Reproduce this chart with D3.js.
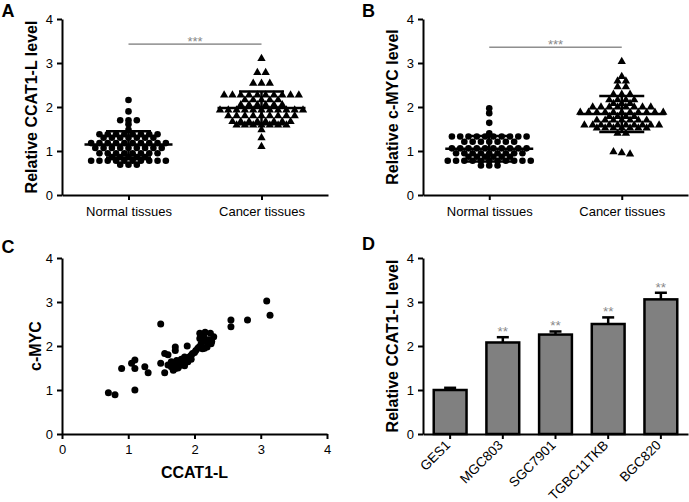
<!DOCTYPE html>
<html><head><meta charset="utf-8">
<script src="https://cdnjs.cloudflare.com/ajax/libs/d3/7.8.5/d3.min.js"></script>
<style>
body{margin:0;background:#fff;}
svg{display:block;}
</style></head><body>
<svg id="c" width="689" height="502"></svg>
<script>
// ---------- DATA ----------
const groups = ["Normal tissues", "Cancer tissues"];
const yTicks = [0, 1, 2, 3, 4];

// Panel A: relative CCAT1-L level
const ccat1Normal = [2.16, 1.90, 1.70, 1.70, 1.70, 1.61, 1.48,
  1.38, 1.38, 1.38, 1.38, 1.38, 1.38, 1.38, 1.38,
  1.30, 1.30, 1.30, 1.30, 1.30, 1.30, 1.30,
  1.18, 1.18, 1.18, 1.18, 1.18, 1.18, 1.18, 1.18, 1.18, 1.18,
  1.07, 1.07, 1.07, 1.07, 1.07, 1.07, 1.07, 1.07, 1.07,
  0.95, 0.95, 0.95, 0.95, 0.95, 0.95, 0.95, 0.95,
  0.86, 0.86, 0.86, 0.86, 0.86,
  0.78, 0.78, 0.78, 0.78, 0.78, 0.78, 0.78, 0.78, 0.78, 0.78,
  0.69, 0.69, 0.69];
const ccat1Cancer = [3.10, 2.78, 2.78, 2.54, 2.54, 2.54,
  2.27, 2.27, 2.27, 2.27, 2.27, 2.27, 2.27, 2.27, 2.27, 2.27,
  2.16, 2.16, 2.16, 2.16, 2.16,
  2.05, 2.05, 2.05, 2.05, 2.05, 2.05,
  1.93, 1.93, 1.93, 1.93, 1.93, 1.93, 1.93, 1.93, 1.93, 1.93, 1.93,
  1.80, 1.80, 1.80, 1.80, 1.80, 1.80, 1.80, 1.80, 1.80,
  1.67, 1.67, 1.67, 1.67, 1.67, 1.67, 1.67, 1.67,
  1.59, 1.59, 1.59, 1.59, 1.59, 1.59, 1.59,
  1.48, 1.30, 1.10];
const ccat1Mean = [1.15, 1.98];
const ccat1SD = [0.30, 0.37];
const ccat1SigLevel = [3.43];
const ccat1SigText = ["***"];

// Panel B: relative c-MYC level
const mycNormal = [1.97, 1.86, 1.64, 1.40,
  1.33, 1.33, 1.33, 1.33, 1.33, 1.33, 1.33, 1.33, 1.33, 1.33,
  1.21, 1.21, 1.21, 1.21, 1.21, 1.21, 1.21,
  1.06, 1.06, 1.06, 1.06, 1.06, 1.06, 1.06, 1.06, 1.06, 1.06,
  0.95, 0.95, 0.95, 0.95, 0.95, 0.95, 0.95, 0.95, 0.95,
  0.87, 0.87, 0.87, 0.87, 0.87, 0.87,
  0.78, 0.78, 0.78, 0.78, 0.78, 0.78, 0.78, 0.78, 0.78, 0.78, 0.78,
  0.67, 0.67, 0.67];
const mycCancer = [3.03, 2.69, 2.59, 2.59, 2.46, 2.46,
  2.29, 2.29, 2.29, 2.16, 2.16, 2.16, 2.16, 2.08, 2.08, 2.08,
  2.00, 2.00, 2.00, 2.00, 2.00, 2.00, 2.00, 2.00,
  1.88, 1.88, 1.88, 1.88, 1.88, 1.88, 1.88, 1.88, 1.88, 1.88, 1.88,
  1.78, 1.78, 1.78, 1.78,
  1.70, 1.70, 1.70, 1.70, 1.70, 1.70, 1.70,
  1.59, 1.59, 1.59, 1.59, 1.59, 1.59, 1.59, 1.59, 1.59, 1.59,
  1.52, 1.52, 1.52, 1.52, 1.52, 1.52, 1.52,
  1.40, 1.40, 0.98, 0.96, 0.93];
const mycMean = [1.05, 1.84];
const mycSD = [0.29, 0.41];
const mycSigLevel = [3.36];
const mycSigText = ["***"];

// Panel C: correlation
const corrTicks = [0, 1, 2, 3, 4];
const corrCCAT1 = [0.70, 0.80, 1.10, 0.90, 1.05, 1.10, 1.10, 1.25, 1.30, 1.49, 1.49, 1.55, 1.55, 1.60, 1.71, 1.71, 1.89,
  1.60, 1.65, 1.71, 1.73, 1.75, 1.80, 1.82, 1.87, 1.90, 1.92, 1.95, 1.97, 2.02, 2.07, 2.10, 2.12,
  1.65, 1.73, 1.76, 1.84, 1.68, 1.75, 1.85, 1.95, 2.00, 2.05, 2.15, 1.80, 1.85,
  2.08, 2.16, 2.24, 2.29, 2.21, 2.14, 2.08, 2.16, 2.19, 2.26, 2.25,
  2.55, 2.55, 2.80, 3.14, 3.09];
const corrMYC = [0.94, 0.89, 1.00, 1.49, 1.61, 1.68, 1.49, 1.53, 1.39, 2.50, 1.61, 1.39, 1.83, 1.80, 1.98, 1.90, 2.00,
  1.57, 1.53, 1.49, 1.57, 1.64, 1.60, 1.67, 1.71, 1.64, 1.75, 1.79, 1.83, 1.90, 1.98, 2.05, 1.94,
  1.64, 1.67, 1.53, 1.60, 1.45, 1.50, 1.55, 1.70, 1.85, 1.95, 1.95, 1.70, 1.75,
  2.29, 2.31, 2.29, 2.21, 2.14, 2.21, 2.17, 2.10, 1.98, 2.10, 2.05,
  2.59, 2.44, 2.59, 2.70, 3.02];

// Panel D: cell lines
const cellLines = ["GES1", "MGC803", "SGC7901", "TGBC11TKB", "BGC820"];
const cellValues = [1.00, 2.08, 2.26, 2.50, 3.06];
const cellErrors = [0.05, 0.12, 0.07, 0.15, 0.15];
const cellSig = ["", "**", "**", "**", "**"];

// ---------- DRAWING ----------
const FONT = '"Liberation Sans", Arial, Helvetica, sans-serif';
const svg = d3.select("#c").attr("font-family", FONT);

function styleAxis(g) {
  g.attr("font-family", FONT);
  g.select(".domain").attr("stroke", "#000").attr("stroke-width", 2);
  g.selectAll(".tick line").attr("stroke", "#000").attr("stroke-width", 2);
  g.selectAll(".tick text").attr("fill", "#000").attr("font-size", 13);
}
function yAxis(x0, y) {
  const g = svg.append("g").attr("transform", `translate(${x0},0)`)
    .call(d3.axisLeft(y).tickValues(yTicks).tickFormat(d3.format("d"))
      .tickSize(5).tickSizeOuter(0).tickPadding(4));
  styleAxis(g);
}
function yTitle(x, yc, text) {
  svg.append("text").attr("transform", `translate(${x},${yc}) rotate(-90)`)
    .attr("text-anchor", "middle").attr("font-weight", "bold").attr("font-size", 16)
    .attr("fill", "#000").text(text);
}
function panelLetter(x, y, t) {
  svg.append("text").attr("x", x).attr("y", y).attr("font-weight", "bold")
    .attr("font-size", 18).attr("fill", "#000").text(t);
}
function rowLayout(values, spacing, tol) {
  const sorted = values.slice().sort((a, b) => b - a);
  const rows = [];
  sorted.forEach(v => {
    const r = rows[rows.length - 1];
    if (r && r.start - v <= tol) r.items.push(v); else rows.push({start: v, items: [v]});
  });
  const out = [];
  rows.forEach(r => {
    const n = r.items.length;
    r.items.forEach((v, i) => out.push({v, dx: (i - (n - 1) / 2) * spacing}));
  });
  return out;
}

function dotPanel(opts) {
  const {x0, x1, top, bottom, normal, cancer, mean, sd, sigLevel, sigText, title, titleX, letter, letterX} = opts;
  const x = d3.scalePoint().domain(groups).range([x0, x1]).padding(0.5);
  const y = d3.scaleLinear().domain([0, 4]).range([bottom, top]);
  yAxis(x0, y);
  const gx = svg.append("g").attr("transform", `translate(0,${bottom})`)
    .call(d3.axisBottom(x).tickSize(5).tickSizeOuter(0).tickPadding(7));
  styleAxis(gx);

  svg.append("g").selectAll("circle").data(rowLayout(normal, 8.3, 0.055)).join("circle")
    .attr("cx", d => x(groups[0]) + d.dx).attr("cy", d => y(d.v)).attr("r", 3.3).attr("fill", "#000");
  const tri = d3.symbol().type(d3.symbolTriangle).size(30);
  svg.append("g").selectAll("path").data(rowLayout(cancer, 8.3, 0.055)).join("path")
    .attr("d", tri).attr("fill", "#000")
    .attr("transform", d => `translate(${x(groups[1]) + d.dx},${y(d.v)})`);

  groups.forEach((gname, i) => {
    const cx = x(gname);
    const g = svg.append("g").attr("stroke", "#000").attr("stroke-width", 2.5);
    g.append("line").attr("x1", cx - 44).attr("x2", cx + 44).attr("y1", y(mean[i])).attr("y2", y(mean[i]));
    g.append("line").attr("x1", cx - 22.5).attr("x2", cx + 22.5).attr("y1", y(mean[i] + sd[i])).attr("y2", y(mean[i] + sd[i]));
    g.append("line").attr("x1", cx - 22.5).attr("x2", cx + 22.5).attr("y1", y(mean[i] - sd[i])).attr("y2", y(mean[i] - sd[i]));
    g.append("line").attr("x1", cx).attr("x2", cx).attr("y1", y(mean[i] - sd[i])).attr("y2", y(mean[i] + sd[i]));
  });

  const sy = y(sigLevel[0]);
  svg.append("line").attr("x1", x(groups[0])).attr("x2", x(groups[1])).attr("y1", sy).attr("y2", sy)
    .attr("stroke", "#555").attr("stroke-width", 1);
  svg.append("text").attr("x", (x(groups[0]) + x(groups[1])) / 2).attr("y", sy + 1.5)
    .attr("text-anchor", "middle").attr("font-size", 13).attr("fill", "#888").text(sigText[0]);

  yTitle(titleX, (top + bottom) / 2, title);
  panelLetter(letterX, 17, letter);
}

dotPanel({x0: 62, x1: 328, top: 19, bottom: 195, normal: ccat1Normal, cancer: ccat1Cancer,
  mean: ccat1Mean, sd: ccat1SD, sigLevel: ccat1SigLevel, sigText: ccat1SigText,
  title: "Relative CCAT1-L level", titleX: 37, letter: "A", letterX: 1.5});
dotPanel({x0: 423, x1: 688, top: 19, bottom: 195, normal: mycNormal, cancer: mycCancer,
  mean: mycMean, sd: mycSD, sigLevel: mycSigLevel, sigText: mycSigText,
  title: "Relative c-MYC level", titleX: 398, letter: "B", letterX: 362});

// Panel C
(function () {
  const x = d3.scaleLinear().domain([0, 4]).range([62, 327]);
  const y = d3.scaleLinear().domain([0, 4]).range([434, 258]);
  yAxis(62, y);
  const gx = svg.append("g").attr("transform", "translate(0,434)")
    .call(d3.axisBottom(x).tickValues(corrTicks).tickFormat(d3.format("d"))
      .tickSize(5).tickSizeOuter(0).tickPadding(6));
  styleAxis(gx);
  svg.append("g").selectAll("circle").data(d3.zip(corrCCAT1, corrMYC)).join("circle")
    .attr("cx", d => x(d[0])).attr("cy", d => y(d[1])).attr("r", 3.5).attr("fill", "#000");
  svg.append("text").attr("x", (62 + 327) / 2).attr("y", 478).attr("text-anchor", "middle")
    .attr("font-weight", "bold").attr("font-size", 16).attr("fill", "#000").text("CCAT1-L");
  yTitle(41, 346, "c-MYC");
  panelLetter(1.5, 253, "C");
})();

// Panel D
(function () {
  const x = d3.scaleBand().domain(cellLines).range([423, 688]).paddingInner(0.33).paddingOuter(0.18);
  const y = d3.scaleLinear().domain([0, 4]).range([434, 258]);
  const bw = x.bandwidth();
  const g = svg.append("g");
  cellLines.forEach((c, i) => {
    const cx = x(c) + bw / 2;
    const top = y(cellValues[i] + cellErrors[i]);
    g.append("line").attr("x1", cx).attr("x2", cx).attr("y1", y(cellValues[i])).attr("y2", top)
      .attr("stroke", "#000").attr("stroke-width", 2.5);
    g.append("line").attr("x1", cx - 6).attr("x2", cx + 6).attr("y1", top).attr("y2", top)
      .attr("stroke", "#000").attr("stroke-width", 2.5);
    if (cellSig[i]) {
      g.append("text").attr("x", cx).attr("y", top - 1).attr("text-anchor", "middle")
        .attr("font-size", 13.5).attr("fill", "#888").text(cellSig[i]);
    }
  });
  g.selectAll("rect").data(cellLines).join("rect")
    .attr("x", d => x(d) + 1.25).attr("width", bw - 2.5)
    .attr("y", (d, i) => y(cellValues[i])).attr("height", (d, i) => y(0) - y(cellValues[i]))
    .attr("fill", "#808080").attr("stroke", "#000").attr("stroke-width", 2.5);
  yAxis(423, y);
  const gx = svg.append("g").attr("transform", "translate(0,434)")
    .call(d3.axisBottom(x).tickSize(5).tickSizeOuter(0));
  styleAxis(gx);
  gx.selectAll(".tick text").attr("text-anchor", "end").attr("dy", null).attr("y", null)
    .attr("font-size", 13.5)
    .attr("transform", "translate(1,12) rotate(-45)");
  yTitle(398, 346, "Relative CCAT1-L level");
  panelLetter(362, 250, "D");
})();
</script>
</body></html>
